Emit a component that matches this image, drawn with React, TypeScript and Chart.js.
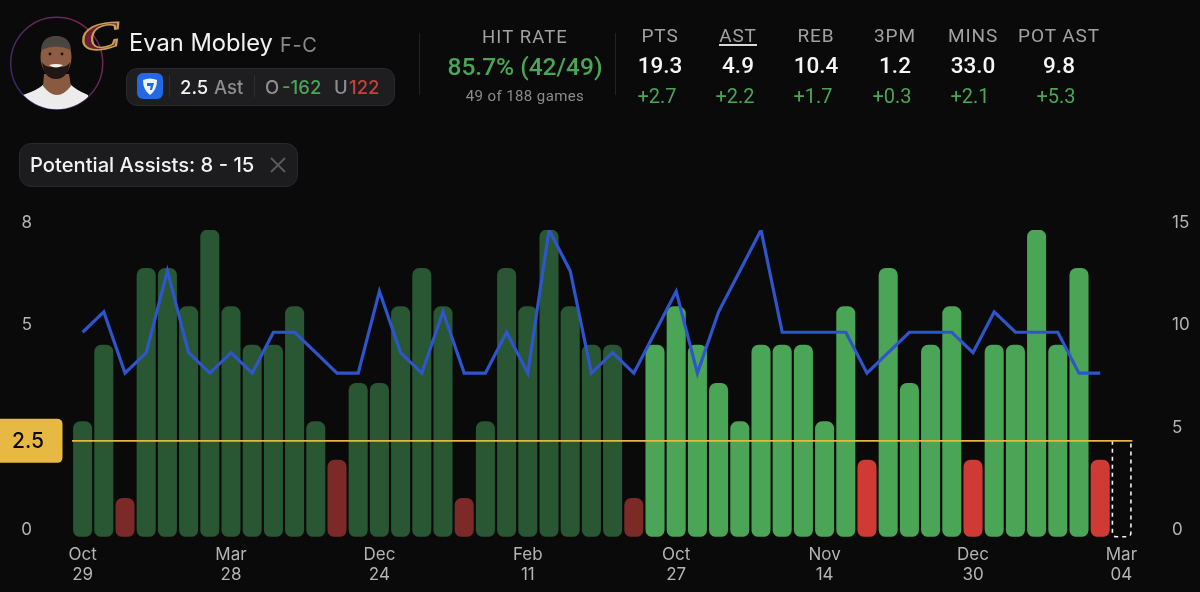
import { useEffect, useRef } from "react"
import { Chart, registerables } from "chart.js"

Chart.register(...registerables)

// one entry per game, oldest first
const assists = [3, 5, 1, 7, 7, 6, 8, 6, 5, 5, 6, 3, 2, 4, 4, 6, 7, 6, 1, 3, 7, 6, 8, 6, 5, 5, 1, 5, 6, 5, 4, 3, 5, 5, 5, 3, 6, 2, 7, 4, 5, 6, 2, 5, 5, 8, 5, 7, 2]
const potentialAssists = [10, 11, 8, 9, 13, 9, 8, 9, 8, 10, 10, 9, 8, 8, 12, 9, 8, 11, 8, 8, 10, 8, 15, 13, 8, 9, 8, 10, 12, 8, 11, 13, 15, 10, 10, 10, 10, 8, 9, 10, 10, 10, 9, 11, 10, 10, 10, 8, 8]
const dateTicks = [["Oct", "29"], ["Mar", "28"], ["Dec", "24"], ["Feb", "11"], ["Oct", "27"], ["Nov", "14"], ["Dec", "30"], ["Mar", "04"]]
const leftAxisValues = [0, 8 / 3, 16 / 3, 8]
const leftAxisLabels = ["0", "", "5", "8"]
const line = 2.5
const dimmedGames = 27
const tickEvery = 7

const statColumns = [
  { name: "PTS", value: "19.3", diff: "+2.7", x: 660 },
  { name: "AST", value: "4.9", diff: "+2.2", x: 738 },
  { name: "REB", value: "10.4", diff: "+1.7", x: 816 },
  { name: "3PM", value: "1.2", diff: "+0.3", x: 895 },
  { name: "MINS", value: "33.0", diff: "+2.1", x: 973 },
  { name: "POT AST", value: "9.8", diff: "+5.3", x: 1059 },
]

const FONT = "Roboto, sans-serif"
const ROUND_FONT = "Inter, sans-serif"
const GREEN = "#4ba557"
const RED = "#cf3b34"

function barColor(value: number, i: number) {
  const over = value > line
  if (i < dimmedGames) return over ? "#295733" : "#7c2a27"
  return over ? GREEN : RED
}

// threshold line, its badge and the outline for the upcoming game
const linePlugin = {
  id: "lineMarker",
  afterDatasetsDraw(chart: Chart) {
    const { ctx, chartArea, scales } = chart
    const y = scales.y.getPixelForValue(line)
    const bottom = scales.y.getPixelForValue(0)
    const nextX = scales.x.getPixelForValue(assists.length)

    ctx.save()
    ctx.strokeStyle = "#f2f2f2"
    ctx.lineWidth = 1.6
    ctx.setLineDash([4, 4])
    ctx.beginPath()
    ctx.moveTo(nextX - 9, y)
    ctx.lineTo(nextX - 9, bottom - 4)
    ctx.quadraticCurveTo(nextX - 9, bottom, nextX - 5, bottom)
    ctx.lineTo(nextX + 5, bottom)
    ctx.quadraticCurveTo(nextX + 9.5, bottom, nextX + 9.5, bottom - 4)
    ctx.lineTo(nextX + 9.5, y)
    ctx.stroke()
    ctx.setLineDash([])

    ctx.strokeStyle = "#e3b840"
    ctx.lineWidth = 1.6
    ctx.beginPath()
    ctx.moveTo(chartArea.left, y)
    ctx.lineTo(nextX + 11, y)
    ctx.stroke()

    ctx.fillStyle = "#e8b942"
    ctx.beginPath()
    ctx.roundRect(-6, y - 22, 68.5, 44, 5)
    ctx.fill()
    ctx.fillStyle = "#0a0a0b"
    ctx.font = `500 21px ${ROUND_FONT}`
    ctx.textAlign = "center"
    ctx.textBaseline = "middle"
    ctx.fillText(String(line), 28, y + 1)
    ctx.restore()
  },
}

function Text({ x, y, size, color, weight = 400, align = "left", spacing = 0, font, children }: any) {
  const shift = align === "center" ? "-50%" : "0"
  return (
    <div
      style={{
        position: "absolute",
        left: x,
        top: y,
        transform: `translate(${shift}, -50%)`,
        fontFamily: font,
        fontSize: size,
        color,
        fontWeight: weight,
        letterSpacing: spacing,
        whiteSpace: "nowrap",
        lineHeight: 1,
      }}
    >
      {children}
    </div>
  )
}

function Portrait() {
  return (
    <svg width="130" height="115" style={{ position: "absolute", left: 0, top: 0 }}>
      <defs>
        <linearGradient id="ring" x1="0" y1="1" x2="1" y2="0">
          <stop offset="0" stopColor="#2b2a6b" />
          <stop offset="1" stopColor="#8a2350" />
        </linearGradient>
        <clipPath id="disc">
          <circle cx="56.7" cy="63.3" r="46" />
        </clipPath>
      </defs>
      <circle cx="56.7" cy="63.3" r="46" fill="none" stroke="url(#ring)" strokeWidth="1.5" />
      <g clipPath="url(#disc)">
        <path d="M23 95 Q38 90 44 84 L70 84 Q76 90 88 95 L88 112 L23 112 Z" fill="#ececec" />
        <path d="M44 74 L69 74 L71 86 Q57 104 43 86 Z" fill="#8a5a40" />
        <ellipse cx="56" cy="57" rx="15.5" ry="21" fill="#8d5c42" />
        <path d="M42 62 Q44 79 56 79 Q68 79 70 62 Q66 69 56 66 Q46 69 42 62 Z" fill="#211714" />
        <path d="M41 50 Q42 36 56 36 Q70 36 71 50 Q56 43 41 50 Z" fill="#4a4540" />
        <circle cx="50" cy="54" r="1.4" fill="#1a1210" />
        <circle cx="62" cy="54" r="1.4" fill="#1a1210" />
        <path d="M49 65 Q56 70 63 65 Q56 63 49 65 Z" fill="#f4efe9" />
      </g>
      <text
        transform="translate(100 36) rotate(-8) scale(1.45 0.95)"
        y="14"
        textAnchor="middle"
        style={{ fontFamily: "'Liberation Serif', serif", fontStyle: "italic", fontWeight: 700, fontSize: 40 }}
        fill="#6f1f35"
        stroke="#c5a050"
        strokeWidth="1.6"
      >
        C
      </text>
    </svg>
  )
}

function Header() {
  return (
    <div style={{ position: "absolute", left: 0, top: 0, width: 1200, height: 200, fontFamily: FONT }}>
      <Portrait />
      <Text x={129} y={43} size={23.7} font={ROUND_FONT} color="#f2f2f2">Evan Mobley</Text>
      <Text x={280} y={45} size={20} font={ROUND_FONT} color="#8b8b8b" spacing={0.6}>F-C</Text>

      <div style={{ position: "absolute", left: 126, top: 68, width: 267, height: 36, background: "#1e1e20", border: "1px solid #2a2a2c", borderRadius: 11 }} />
      <svg width="26" height="26" style={{ position: "absolute", left: 137, top: 73 }}>
        <rect width="26" height="26" rx="6" fill="#2468e4" />
        <path d="M6 7 Q13 4 20 7 Q20 17 13 22 Q6 17 6 7 Z" fill="#eef4ff" />
        <path d="M10 10 L17 10 L15 17 L13 17 L13.6 13 L10 13 Z" fill="#2468e4" />
      </svg>
      <div style={{ position: "absolute", left: 169, top: 75, width: 1, height: 22, background: "#2e2e30" }} />
      <div style={{ position: "absolute", left: 254, top: 75, width: 1, height: 22, background: "#2e2e30" }} />
      <Text x={180} y={87} size={18.5} weight={500} font={ROUND_FONT} color="#f2f2f2">2.5</Text>
      <Text x={214} y={87} size={18.5} weight={500} font={ROUND_FONT} color="#8e8e8e">Ast</Text>
      <Text x={265} y={87} size={18.5} weight={500} font={ROUND_FONT} color="#8e8e8e">O</Text>
      <Text x={282} y={87} size={18.5} weight={500} font={ROUND_FONT} color={GREEN}>-162</Text>
      <Text x={334} y={87} size={18.5} weight={500} font={ROUND_FONT} color="#8e8e8e">U</Text>
      <Text x={349} y={87} size={18.5} weight={500} font={ROUND_FONT} color="#c8403a">122</Text>

      <div style={{ position: "absolute", left: 419, top: 33, width: 1, height: 62, background: "#222224" }} />
      <div style={{ position: "absolute", left: 615, top: 33, width: 1, height: 62, background: "#222224" }} />
      <Text x={525} y={37} size={18.5} align="center" color="#a2a2a2" spacing={1.1}>HIT RATE</Text>
      <Text x={525} y={67} size={24.5} weight={500} align="center" color={GREEN}>85.7% (42/49)</Text>
      <Text x={525} y={96} size={15} align="center" color="#8b8b8b" spacing={0.4}>49 of 188 games</Text>

      {statColumns.map((s) => (
        <div key={s.name}>
          <Text x={s.x} y={35} size={19} align="center" color="#a2a2a2" spacing={0.9}>{s.name}</Text>
          <Text x={s.x} y={65} size={22.5} weight={500} align="center" color="#f5f5f5">{s.value}</Text>
          <Text x={s.x - 3} y={96} size={20} align="center" color={GREEN}>{s.diff}</Text>
        </div>
      ))}
      <div style={{ position: "absolute", left: 719, top: 44, width: 38, height: 1.5, background: "#d8d8d8" }} />

      <div style={{ position: "absolute", left: 19, top: 143, width: 277, height: 42, background: "#1c1c1e", border: "1px solid #29292b", borderRadius: 12 }} />
      <Text x={30} y={165} size={20.2} weight={500} font={ROUND_FONT} color="#f2f2f2">Potential Assists: 8 - 15</Text>
      <svg width="16" height="16" style={{ position: "absolute", left: 270, top: 157 }}>
        <path d="M1 1 L15 15 M15 1 L1 15" stroke="#5b5b5d" strokeWidth="1.8" />
      </svg>
    </div>
  )
}

export default function App() {
  const canvasRef = useRef<HTMLCanvasElement>(null)

  useEffect(() => {
    if (!canvasRef.current) return
    const tickFont = { family: ROUND_FONT, size: 17, lineHeight: 1.18 }

    const chart = new Chart(canvasRef.current, {
      type: "bar",
      data: {
        // the extra slot at the end is the upcoming game
        labels: [...assists.map((_, i) => `Game ${i + 1}`), "Next"],
        datasets: [
          {
            type: "line",
            data: potentialAssists,
            yAxisID: "y2",
            borderColor: "#2f55cd",
            borderWidth: 3.2,
            borderJoinStyle: "miter",
            tension: 0,
            pointRadius: 0,
            order: 0,
          },
          {
            type: "bar",
            data: assists,
            yAxisID: "y",
            backgroundColor: assists.map(barColor),
            barThickness: 18.4,
            borderRadius: 7,
            borderSkipped: false,
            order: 1,
          },
        ],
      },
      options: {
        responsive: false,
        animation: false,
        layout: { padding: { top: 230 } },
        events: [],
        plugins: {
          legend: { display: false },
          tooltip: { enabled: false },
        },
        scales: {
          x: {
            grid: { display: false },
            border: { display: false },
            afterFit: (scale: any) => {
              scale.height = 55.3
            },
            ticks: {
              autoSkip: false,
              maxRotation: 0,
              padding: 0,
              color: "#b4b4b4",
              font: tickFont,
              callback: (_: any, i: number) => (i % tickEvery === 0 ? dateTicks[i / tickEvery] : ""),
            },
          },
          y: {
            min: 0,
            max: 8,
            position: "left",
            grid: { display: false },
            border: { display: false },
            afterBuildTicks: (scale: any) => {
              scale.ticks = leftAxisValues.map((value) => ({ value }))
            },
            afterFit: (scale: any) => {
              scale.width = 72
            },
            ticks: {
              autoSkip: false,
              padding: 32,
              labelOffset: -7,
              color: "#b4b4b4",
              font: tickFont,
              callback: (_: any, i: number) => leftAxisLabels[i],
            },
          },
          y2: {
            min: 0,
            max: 15,
            position: "right",
            grid: { display: false },
            border: { display: false },
            afterFit: (scale: any) => {
              scale.width = 68
            },
            ticks: {
              stepSize: 5,
              padding: 32,
              labelOffset: -7,
              color: "#b4b4b4",
              font: tickFont,
            },
          },
        },
      },
      plugins: [linePlugin],
    } as any)

    return () => chart.destroy()
  }, [])

  return (
    <div style={{ position: "fixed", left: 0, top: 0, width: 1200, height: 592, background: "#0a0a0b", overflow: "hidden" }}>
      <canvas ref={canvasRef} width={1200} height={592} style={{ position: "absolute", left: 0, top: 0 }} />
      <Header />
    </div>
  )
}
